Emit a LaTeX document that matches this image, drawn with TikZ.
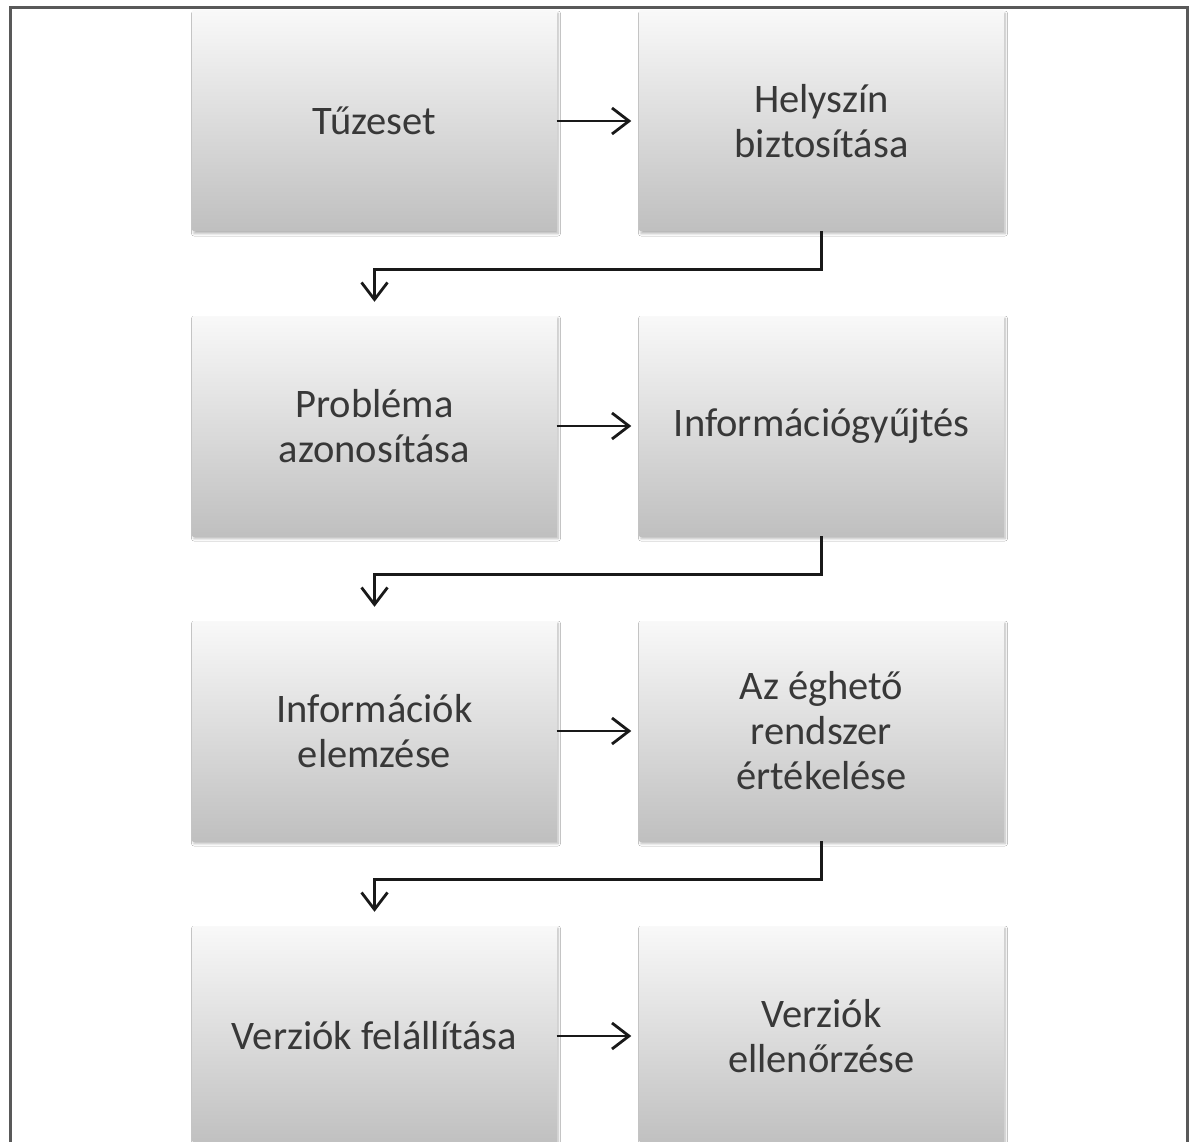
\documentclass[tikz,border=0pt]{standalone}
\usepackage{fontspec}
\setmainfont{Carlito}
\usetikzlibrary{arrows.meta,shadows.blur}
\begin{document}
\begin{tikzpicture}[x=1pt,y=-1pt,
  stepbox/.style={rectangle, minimum width=364pt, minimum height=220pt,
    top color=gray!5, bottom color=gray!50, draw=none,
    blur shadow={shadow xshift=1.5pt, shadow yshift=-2.5pt, shadow blur steps=5, shadow blur radius=2.5pt, shadow opacity=30},
    text=black!78, align=center, font=\fontsize{40.5}{45}\selectfont, inner sep=0pt},
  arr/.style={line width=2.8pt, -{Straight Barb[length=17pt,width=26pt,line width=2.8pt]}, black!90}]
\useasboundingbox (0,0) rectangle (1189,1142);
\clip (0,0) rectangle (1189,1142);
\fill[white] (0,0) rectangle (1189,1142);
\draw[gray!70!black, line width=3pt] (10.5,1160) -- (10.5,8) -- (1187,8) -- (1187,1160);

\node[stepbox] (a) at (374.5,121) {Tűzeset};
\node[stepbox] (b) at (821.5,121) {Helyszín\\biztosítása};
\node[stepbox] (c) at (374.5,426) {Probléma\\azonosítása};
\node[stepbox] (d) at (821.5,426) {Információgyűjtés};
\node[stepbox] (e) at (374.5,731) {Információk\\elemzése};
\node[stepbox] (f) at (821.5,731) {Az éghető\\rendszer\\értékelése};
\node[stepbox] (g) at (374.5,1036) {Verziók felállítása};
\node[stepbox] (h) at (821.5,1036) {Verziók\\ellenőrzése};

\draw[arr, shorten >=8pt] (a.east) -- (b.west);
\draw[arr, shorten >=8pt] (c.east) -- (d.west);
\draw[arr, shorten >=8pt] (e.east) -- (f.west);
\draw[arr, shorten >=8pt] (g.east) -- (h.west);

\draw[arr, shorten >=14pt] (b.south) -- ++(0,38) -| (c.north);
\draw[arr, shorten >=14pt] (d.south) -- ++(0,38) -| (e.north);
\draw[arr, shorten >=14pt] (f.south) -- ++(0,38) -| (g.north);
\end{tikzpicture}
\end{document}
